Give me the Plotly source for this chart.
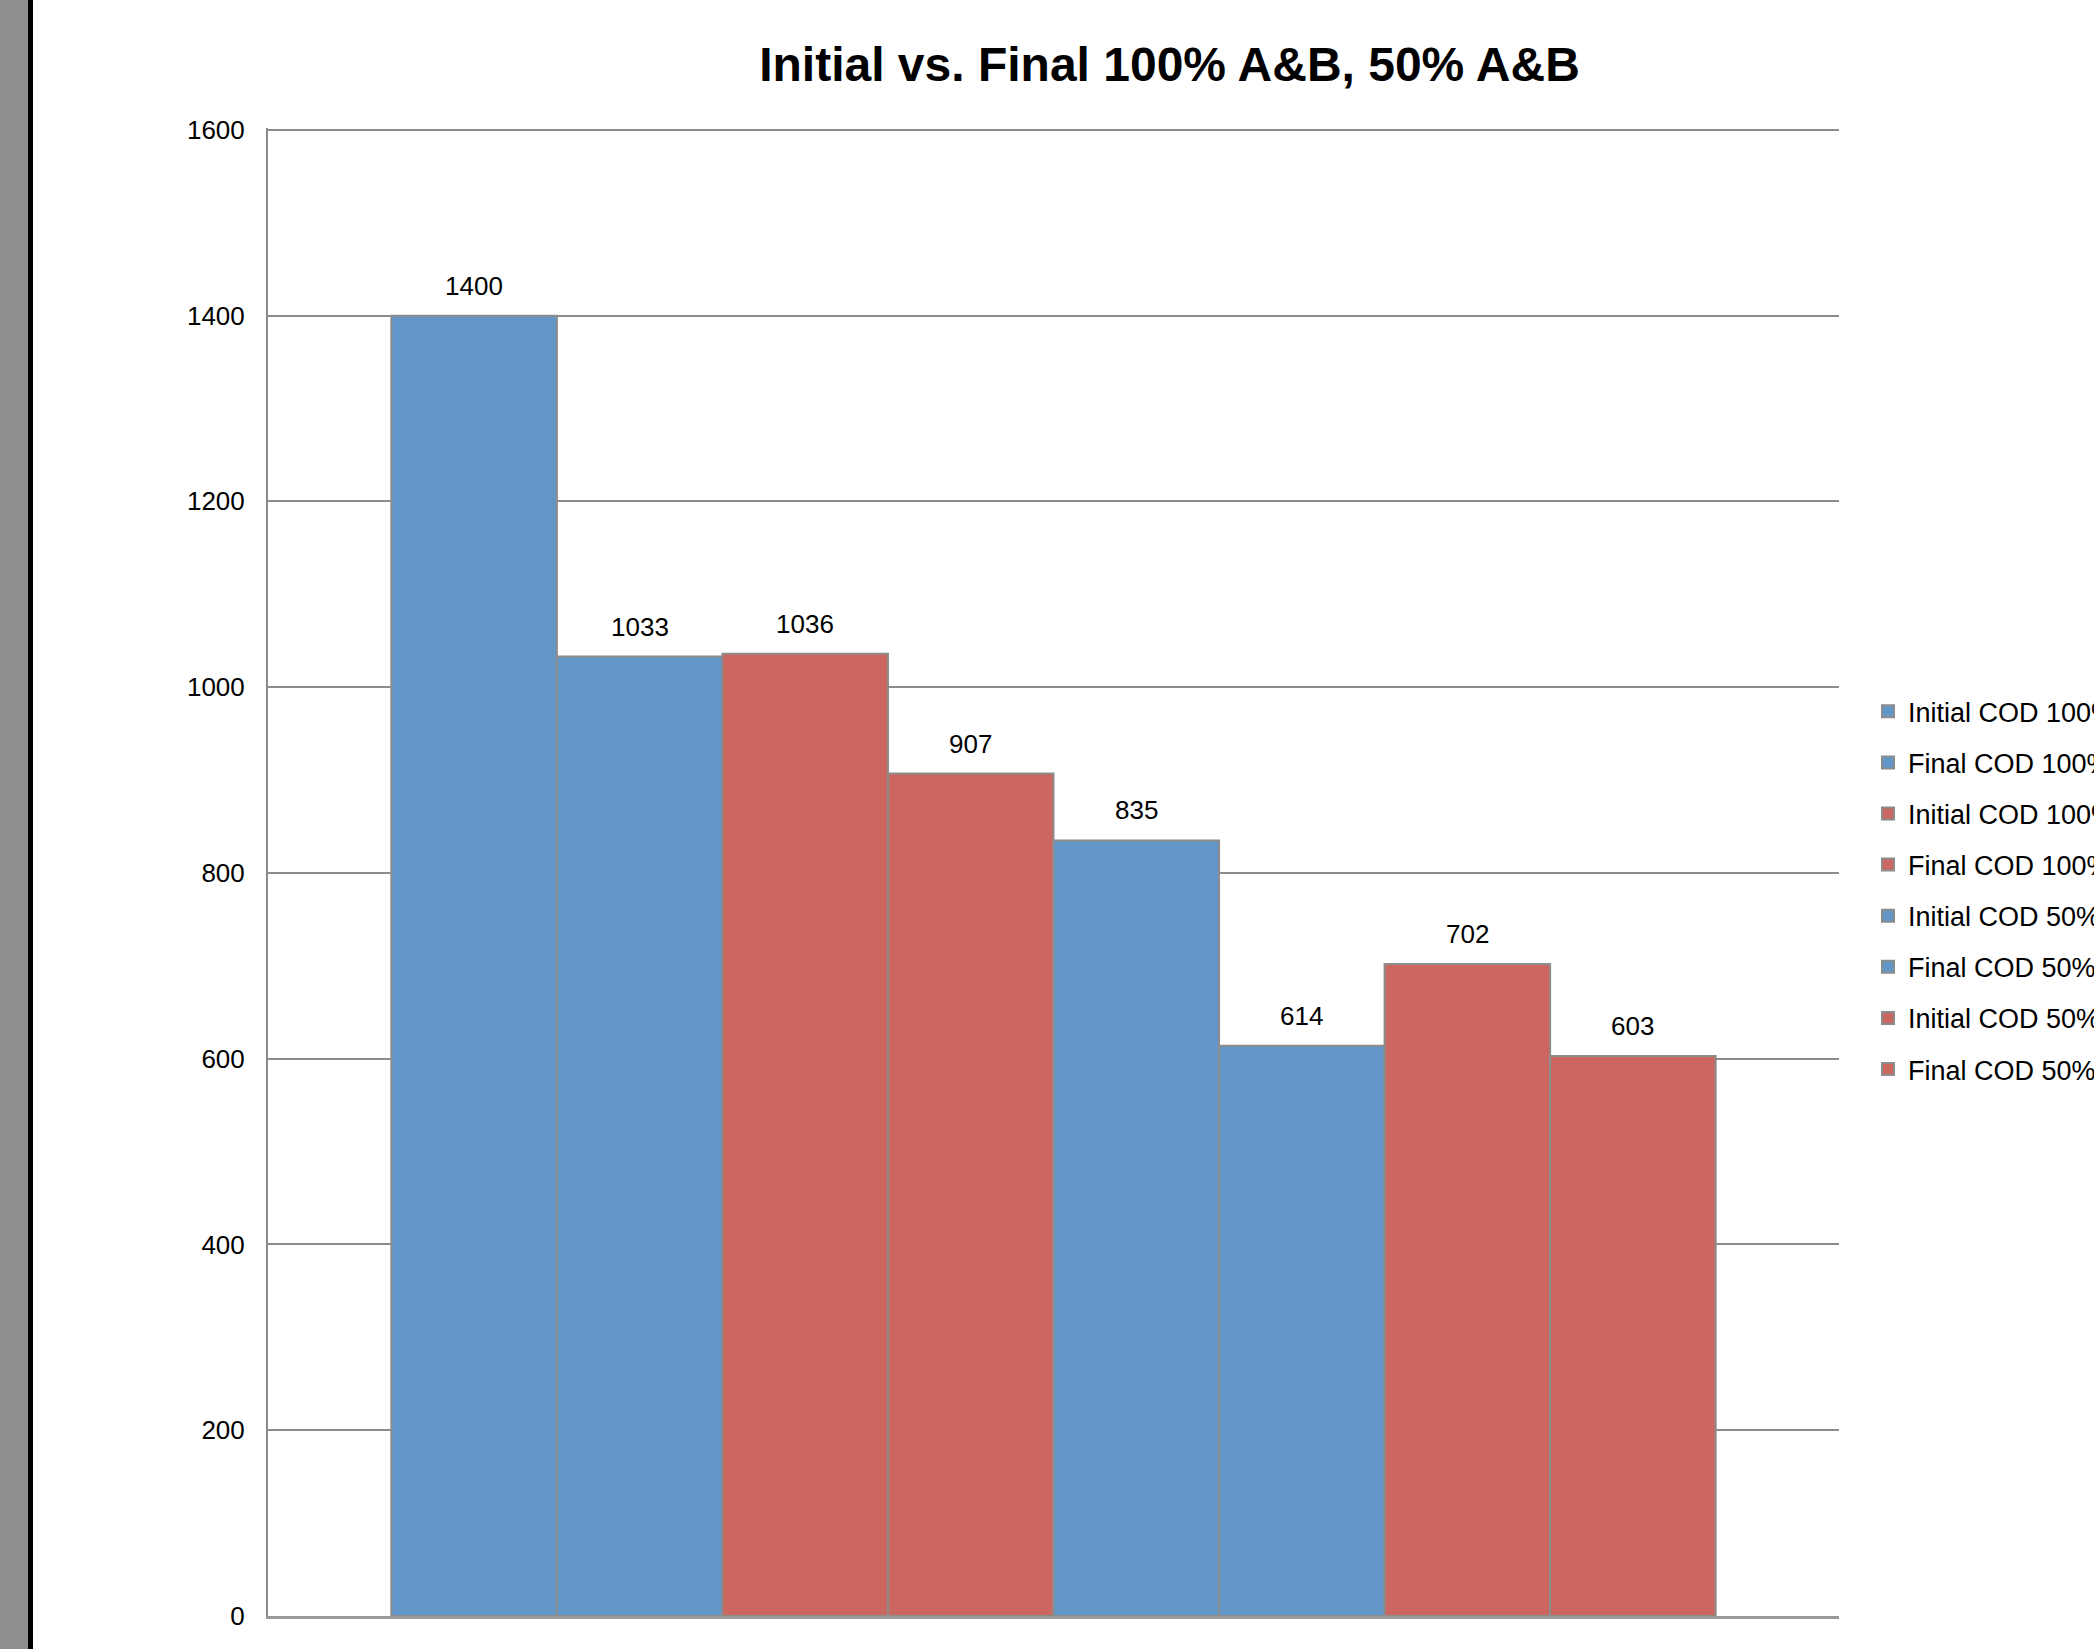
import plotly.graph_objects as go

# ---- data ----
category = [1]
series_names = [
    "Initial COD 100% A",
    "Final COD 100% A",
    "Initial COD 100% B",
    "Final COD 100% B",
    "Initial COD 50% A",
    "Final COD 50% A",
    "Initial COD 50% B",
    "Final COD 50% B",
]
series_values = [1400, 1033, 1036, 907, 835, 614, 702, 603]
series_colors = ["#6296C8", "#6296C8", "#CC6660", "#CC6660",
                 "#6296C8", "#6296C8", "#CC6660", "#CC6660"]
y_ticks = [0, 200, 400, 600, 800, 1000, 1200, 1400, 1600]

# ---- layout geometry (pixels) ----
W, H = 2094, 1649
YMAX = 1602
ML, MR, MT, MB = 268, 255, 127.6, 33
PW = W - ML - MR
PH = H - MT - MB
BARGAP = 0.157
FONT = "Liberation Sans, Arial, sans-serif"

fig = go.Figure()
for name, val, col in zip(series_names, series_values, series_colors):
    fig.add_trace(go.Bar(
        x=category, y=[val], name=name,
        marker=dict(color=col, line=dict(color="#8c8c8c", width=2)),
        legendgroup=name,
    ))

# data labels above bars
n = len(series_values)
group_w = 1 - BARGAP
bw = group_w / n
for i, val in enumerate(series_values):
    xc = category[0] - group_w / 2 + (i + 0.5) * bw
    fig.add_annotation(x=xc, y=val, xref="x", yref="y", text=str(val),
                       showarrow=False, yanchor="bottom", yshift=13,
                       font=dict(family=FONT, size=26, color="#000"))

# left gray strip and black bar (window edge)
fig.add_shape(type="rect", xref="paper", yref="paper",
              x0=-ML / PW, x1=(28 - ML) / PW, y0=-0.2, y1=1.3,
              fillcolor="#8f8f8f", line=dict(width=0), layer="below")
fig.add_shape(type="rect", xref="paper", yref="paper",
              x0=(28 - ML) / PW, x1=(33 - ML) / PW, y0=-0.2, y1=1.3,
              fillcolor="#000000", line=dict(width=0), layer="below")

fig.update_layout(
    width=W, height=H,
    margin=dict(l=ML, r=MR, t=MT, b=MB, autoexpand=False),
    paper_bgcolor="white", plot_bgcolor="white",
    barmode="group", bargap=BARGAP, bargroupgap=0,
    font=dict(family=FONT, size=26, color="#000"),
    title=dict(text="<b>Initial vs. Final 100% A&B, 50% A&B</b>",
               font=dict(family=FONT, size=48, color="#000"),
               xref="paper", x=(1169.5 - ML) / PW, xanchor="center",
               yref="container", y=1 - 64 / H, yanchor="middle"),
    xaxis=dict(range=[0.5, 1.5], tickvals=category, ticktext=["1"],
               showgrid=False, zeroline=False, showline=True,
               linecolor="#9a9a9a", linewidth=3, ticks="",
               ticklabelstandoff=18,
               tickfont=dict(family=FONT, size=26, color="#000")),
    yaxis=dict(range=[0, YMAX], tickvals=y_ticks, showgrid=True,
               gridcolor="#8c8c8c", gridwidth=2, zeroline=False,
               showline=True, linecolor="#8c8c8c", linewidth=2, ticks="",
               ticklabelstandoff=16,
               tickfont=dict(family=FONT, size=26, color="#000")),
    legend=dict(x=(1868 - ML) / PW, xanchor="left",
                y=(H - MB - 687) / PH, yanchor="top",
                font=dict(family=FONT, size=27, color="#000"),
                tracegroupgap=13, bgcolor="rgba(0,0,0,0)"),
    showlegend=True,
)

fig.write_html("out.html")
